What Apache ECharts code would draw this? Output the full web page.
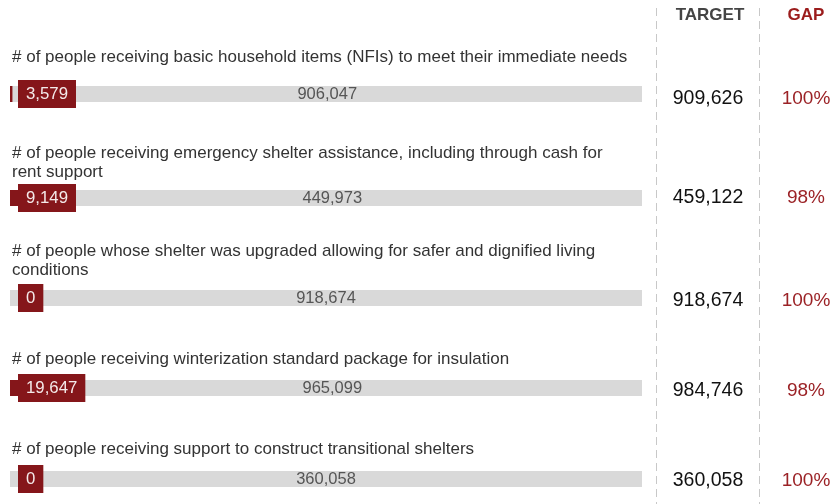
<!DOCTYPE html>
<html>
<head>
<meta charset="utf-8">
<script src="https://cdn.jsdelivr.net/npm/echarts@6/dist/echarts.min.js"></script>
<style>
  html, body { margin: 0; padding: 0; background: #fff; }
  #chart { width: 838px; height: 504px; }
</style>
</head>
<body>
<div id="chart"></div>
<script>
// indicators
var indicators = [
  '# of people receiving basic household items (NFIs) to meet their immediate needs',
  '# of people receiving emergency shelter assistance, including through cash for\nrent support',
  '# of people whose shelter was upgraded allowing for safer and dignified living\nconditions',
  '# of people receiving winterization standard package for insulation',
  '# of people receiving support to construct transitional shelters'
]
var reached = [3579, 9149, 0, 19647, 0]
var remaining = [906047, 449973, 918674, 965099, 360058]
var targets = [909626, 459122, 918674, 984746, 360058]
var gaps = ['100%', '98%', '100%', '98%', '100%']

// layout of each row (bar top, title top, target/gap centre)
var barTops = [86, 190, 290, 380, 471]
var titleTops = [48, 144, 242, 350, 440]
var valueMids = [99, 198, 301, 391, 481]
var barH = 16

var RED = '#85161a'
var GREY = '#d9d9d9'
var FONT = '"Liberation Sans", Arial, sans-serif'

var chart = echarts.init(document.getElementById('chart'))

var grids = [], xAxes = [], yAxes = [], series = [], graphics = []

function fmt (v) { return v.toLocaleString('en-US') }

indicators.forEach(function (name, i) {
  grids.push({ left: 10, right: 196, top: barTops[i], height: barH })
  xAxes.push({ gridIndex: i, type: 'value', min: 0, max: targets[i], show: false })
  yAxes.push({ gridIndex: i, type: 'category', data: [''], show: false })
  series.push({
    type: 'bar', xAxisIndex: i, yAxisIndex: i, stack: 's' + i,
    data: [reached[i]], barWidth: barH, silent: true,
    itemStyle: { color: RED },
    label: {
      show: true, position: [8, barH / 2], align: 'left', verticalAlign: 'middle',
      formatter: fmt(reached[i]),
      backgroundColor: RED, color: '#f4eaea', fontSize: 16.8, fontFamily: FONT,
      padding: [6, 8, 6, 8], lineHeight: 16
    },
    z: 3
  })
  series.push({
    type: 'bar', xAxisIndex: i, yAxisIndex: i, stack: 's' + i,
    data: [remaining[i]], barWidth: barH, silent: true,
    itemStyle: { color: GREY },
    label: {
      show: true, position: 'inside', formatter: fmt(remaining[i]),
      color: '#555', fontSize: 16.5, fontFamily: FONT
    },
    z: 2
  })
  graphics.push({
    type: 'text', left: 12, top: titleTops[i],
    style: { text: name, fill: '#333', font: '17px ' + FONT, lineHeight: 19 }
  })
  graphics.push({
    type: 'text', x: 708, y: valueMids[i],
    style: { text: fmt(targets[i]), fill: '#111', font: '19.5px ' + FONT, align: 'center', verticalAlign: 'middle' }
  })
  graphics.push({
    type: 'text', x: 806, y: valueMids[i],
    style: { text: gaps[i], fill: '#9b2226', font: '19px ' + FONT, align: 'center', verticalAlign: 'middle' }
  })
})

// header + dashed separators
graphics.push({
  type: 'text', x: 710, y: 15,
  style: { text: 'TARGET', fill: '#444', font: 'bold 17px ' + FONT, align: 'center', verticalAlign: 'middle' }
})
graphics.push({
  type: 'text', x: 806, y: 15,
  style: { text: 'GAP', fill: '#9b1c1c', font: 'bold 17px ' + FONT, align: 'center', verticalAlign: 'middle' }
})
;[656, 759].forEach(function (x) {
  graphics.push({
    type: 'line', shape: { x1: x + 0.5, y1: 8, x2: x + 0.5, y2: 504 },
    style: { stroke: '#c8c8c8', lineWidth: 1, lineDash: [8, 5] }
  })
})

chart.setOption({
  animation: false,
  grid: grids,
  xAxis: xAxes,
  yAxis: yAxes,
  series: series,
  graphic: graphics
})
</script>
</body>
</html>
